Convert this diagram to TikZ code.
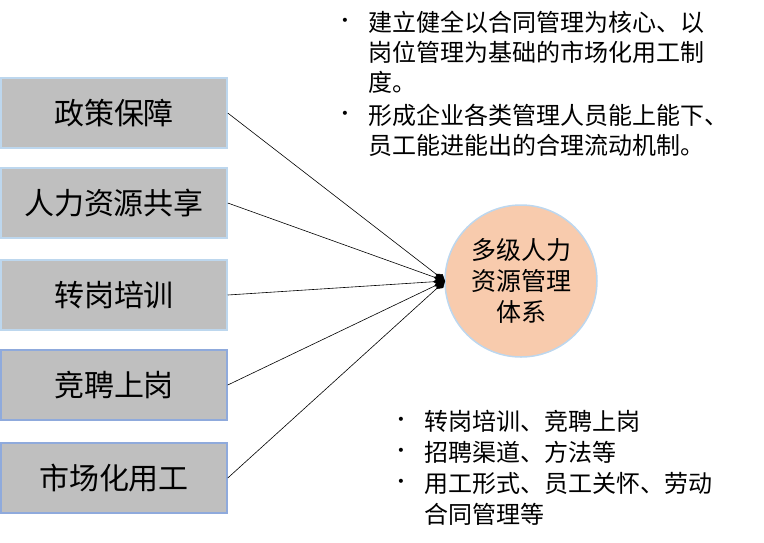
\documentclass[tikz,border=0pt]{standalone}
\usepackage{fontspec}
\setmainfont{Noto Sans CJK SC}
\newfontfamily\dvs{DejaVu Sans}
\usetikzlibrary{arrows.meta}
\definecolor{lb1}{RGB}{189,215,238}
\definecolor{lb2}{RGB}{143,170,220}
\definecolor{peach}{RGB}{248,203,173}
\begin{document}
\begin{tikzpicture}[x=1pt,y=-1pt,
 box/.style={draw=lb1,line width=1.5pt,fill=black!25,minimum width=226pt,minimum height=70pt,inner sep=0pt,font=\fontsize{30}{34}\selectfont},
 txt/.style={anchor=west,inner sep=0pt,font=\fontsize{24}{27}\selectfont},
 bul/.style={anchor=center,inner sep=0pt,font=\dvs\fontsize{14}{16}\selectfont},
 con/.style={draw=black,line width=0.6pt}]
\useasboundingbox (0,0) rectangle (764,542);
\node[box] (b1) at (114,113) {政策保障};
\node[box] (b2) at (114,203) {人力资源共享};
\node[box] (b3) at (114,295) {转岗培训};
\node[box,draw=lb2] (b4) at (114,385) {竞聘上岗};
\node[box,draw=lb2] (b5) at (114,478) {市场化用工};
\node[circle,draw=lb1,line width=1.5pt,fill=peach,minimum size=152pt,align=center,font=\fontsize{25}{31}\selectfont,inner sep=0pt] (c) at (521,281) {多级人力\\资源管理\\体系};
\coordinate (t) at (445,281);
\foreach \b in {b1,b2,b3,b4,b5}{\draw[con,-{Diamond[length=12pt,width=8pt]}] (\b.east) -- (t);}
\foreach \y/\s in {22/建立健全以合同管理为核心、以,52/岗位管理为基础的市场化用工制,82/度。,115/形成企业各类管理人员能上能下、,145/员工能进能出的合理流动机制。}{\node[txt] (tt\y) at (368,\y) {\s};}
\node[bul] (d1) at (345,22) {•};
\node[bul] (d2) at (345,115) {•};
\foreach \y/\s in {421/转岗培训、竞聘上岗,452/招聘渠道、方法等,483/用工形式、员工关怀、劳动,514/合同管理等}{\node[txt] (bt\y) at (424,\y) {\s};}
\node[bul] (e1) at (401,421) {•};
\node[bul] (e2) at (401,452) {•};
\node[bul] (e3) at (401,483) {•};
\end{tikzpicture}
\end{document}
